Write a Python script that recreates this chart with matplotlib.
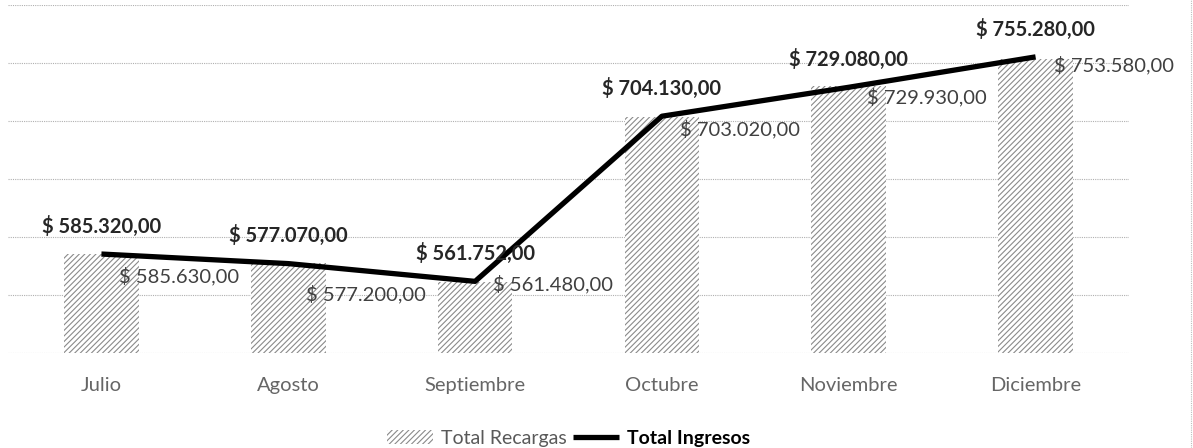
import matplotlib
matplotlib.use("Agg")
import matplotlib.pyplot as plt
from matplotlib.lines import Line2D
import numpy as np

# data
months = ["Julio", "Agosto", "Septiembre", "Octubre", "Noviembre", "Diciembre"]
total_recargas = [585630, 577200, 561480, 703020, 729930, 753580]
total_ingresos = [585320, 577070, 561752, 704130, 729080, 755280]

# label nudges (px, below the bar top) for the recargas labels
recargas_dy = [-22, -31, -2, -12, -11, -6]


def money(v):
    # $ 585.630,00 style
    s = f"{v:,.2f}".replace(",", "X").replace(".", ",").replace("X", ".")
    return "$ " + s


plt.rcParams["font.family"] = ["Lato", "DejaVu Sans"]
plt.rcParams["hatch.linewidth"] = 0.8

fig = plt.figure(figsize=(11.93, 4.48), dpi=100)
ax = fig.add_axes([8 / 1193, 1 - 353 / 448, (1129 - 8) / 1193, 348 / 448])

x = np.arange(len(months))
bars = ax.bar(x, total_recargas, width=0.40, color="white", edgecolor="#8a8a8a",
              linewidth=0, hatch="//////", label="Total Recargas", zorder=2)
line, = ax.plot(x, total_ingresos, color="black", linewidth=3.8, label="Total Ingresos",
                zorder=3, solid_capstyle="butt")

ax.set_xlim(-0.5, len(months) - 0.5)
ax.set_ylim(500000, 800000)
ax.set_yticks(np.arange(500000, 800001, 50000))
ax.yaxis.grid(True, color="#b0b0b0", linestyle=(0, (1, 1)), linewidth=0.8, zorder=0)
ax.tick_params(axis="y", left=False, labelleft=False)
ax.tick_params(axis="x", bottom=False, labelsize=14.5, labelcolor="#666666", pad=14)
ax.set_xticks(x)
ax.set_xticklabels(months)
for sp in ax.spines.values():
    sp.set_visible(False)

# labels for the line (bold, centered above the point)
for xi, v in zip(x, total_ingresos):
    ax.annotate(money(v), (xi, v), xytext=(0, 20), textcoords="offset points",
                ha="center", va="center", fontsize=14.5, fontweight="bold",
                color="#262626", zorder=5)

# labels for the bars (to the right of the bar top)
for xi, v, dy in zip(x, total_recargas, recargas_dy):
    ax.annotate(money(v), (xi + 0.2, v), xytext=(-14, dy * 0.72), textcoords="offset points",
                ha="left", va="center", fontsize=14.5, color="#404040", zorder=5)

leg = ax.legend(handles=[bars, line], labels=["Total Recargas", "Total Ingresos"],
                loc="upper center", bbox_to_anchor=(0.5, -0.17), ncol=2, frameon=False,
                fontsize=14, handlelength=2.4, columnspacing=0.3, handletextpad=0.4)
texts = leg.get_texts()
texts[0].set_color("#595959")
texts[1].set_color("black")
texts[1].set_fontweight("bold")

# thin dotted border on the right edge of the chart area
fig.add_artist(Line2D([1191 / 1193, 1191 / 1193], [0, 1], color="#bdbdbd",
                      linestyle=(0, (1, 1)), linewidth=0.8))

fig.savefig("out.png", dpi=100)
